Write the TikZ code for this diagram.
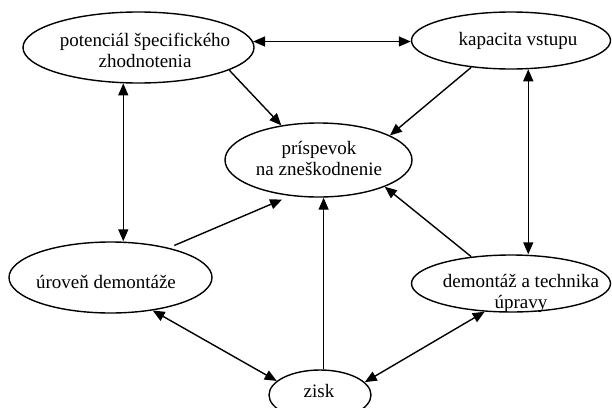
\documentclass[tikz,border=0pt]{standalone}
\usepackage{fontspec}
\setmainfont{Liberation Serif}
\usetikzlibrary{shapes.geometric,arrows.meta}
\begin{document}
\begin{tikzpicture}[x=1pt,y=-1pt,
  ell/.style={draw, ellipse, inner sep=0pt, line width=1.4pt},
  lbl/.style={font=\fontsize{19}{21}\selectfont, align=center, inner sep=0pt},
  conn/.style={line width=1.4pt, -{Triangle[length=12pt,width=10pt]}},
  dbl/.style={line width=1.4pt, {Triangle[length=12pt,width=10pt]}-{Triangle[length=12pt,width=10pt]}}]
\useasboundingbox (0,0) rectangle (612,407);
\clip (0,0) rectangle (612,407);
% ellipses
\node[ell, minimum width=231pt, minimum height=71pt] (P) at (138.5,47.5) {};
\node[ell, minimum width=199pt, minimum height=57pt] (K) at (511,40.5) {};
\node[ell, minimum width=187pt, minimum height=74pt] (R) at (318.5,160) {};
\node[ell, minimum width=203pt, minimum height=71pt] (U) at (110.5,277.5) {};
\node[ell, minimum width=199pt, minimum height=57pt] (D) at (511,283.5) {};
\node[ell, minimum width=102pt, minimum height=50pt] (Z) at (320,395) {};
% texts
\node[lbl] (Pt) at (145,50) {potenciál špecifického\\zhodnotenia};
\node[lbl, anchor=base] (Kt) at (518,45) {kapacita vstupu};
\node[lbl] (Rt) at (319,158) {príspevok\\na zneškodnenie};
\node[lbl, anchor=base] (Ut) at (106,288) {úroveň demontáže};
\node[lbl] (Dt) at (521,293) {demontáž a technika\\úpravy};
\node[lbl, anchor=base] (Zt) at (319,397) {zisk};
% connectors
\draw[dbl] (P.3) -- (P.3 -| K.west);
\draw[conn] (P.-14.7) -- (R.137);
\draw[conn] (K.214.5) -- (R.19.8);
\draw[dbl] (P.247.6) -- (P.247.6 |- U.north);
\draw[dbl] (K.-59.6) -- (K.-59.6 |- D.north);
\draw[conn, shorten <=6pt, shorten >=9pt] (U.27) -- (R.-128);
\draw[conn] (Z.82) -- (Z.82 |- R.south);
\draw[conn] (D.146) -- (R.-22);
\draw[dbl] (U.-38) -- (Z.162.8);
\draw[dbl] (D.227.5) -- (Z.16);
\end{tikzpicture}
\end{document}
